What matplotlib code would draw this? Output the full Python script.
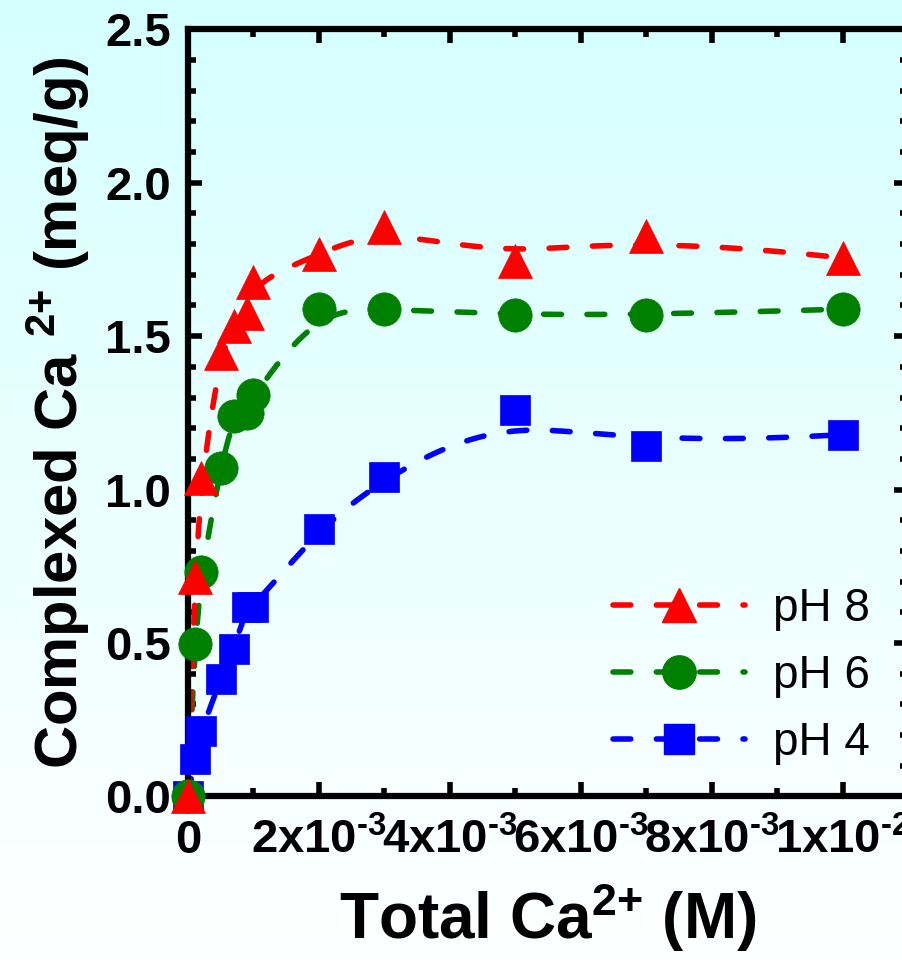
import numpy as np
import matplotlib
matplotlib.use("Agg")
import matplotlib.pyplot as plt
import matplotlib.ticker as mticker
from matplotlib.lines import Line2D

plt.rcParams["font.family"] = ["Liberation Sans", "DejaVu Sans"]
plt.rcParams["mathtext.fontset"] = "custom"
plt.rcParams["mathtext.rm"] = "Liberation Sans:bold"
plt.rcParams["mathtext.it"] = "Liberation Sans:bold"
plt.rcParams["mathtext.bf"] = "Liberation Sans:bold"
plt.rcParams["mathtext.default"] = "regular"

# data (total Ca2+ in M, complexed Ca2+ in meq/g)
x_ph8 = [0, 1e-4, 2e-4, 5e-4, 7e-4, 9e-4, 1e-3, 2e-3, 3e-3, 5e-3, 7e-3, 1e-2]
y_ph8 = [0.0, 0.716, 1.038, 1.445, 1.532, 1.577, 1.677, 1.767, 1.856, 1.746, 1.826, 1.755]

x_ph6 = [0, 1e-4, 2e-4, 5e-4, 7e-4, 9e-4, 1e-3, 2e-3, 3e-3, 5e-3, 7e-3, 1e-2]
y_ph6 = [0.0, 0.496, 0.732, 1.071, 1.241, 1.249, 1.309, 1.589, 1.589, 1.569, 1.569, 1.588]

x_ph4 = [0, 1e-4, 2e-4, 5e-4, 7e-4, 9e-4, 1e-3, 2e-3, 3e-3, 5e-3, 7e-3, 1e-2]
y_ph4 = [0.0, 0.122, 0.212, 0.382, 0.481, 0.617, 0.617, 0.871, 1.041, 1.259, 1.141, 1.179]

x_ticks = [0, 2e-3, 4e-3, 6e-3, 8e-3, 1e-2]
x_ticklabels = ["0", r"2x10$^{\text{-3}}$", r"4x10$^{\text{-3}}$", r"6x10$^{\text{-3}}$",
                r"8x10$^{\text{-3}}$", r"1x10$^{\text{-2}}$"]
y_ticks = [0.0, 0.5, 1.0, 1.5, 2.0, 2.5]

TOP_BG = np.array([0.835, 1.0, 1.0])
BOT_BG = np.array([1.0, 1.0, 1.0])


def bspline(x, y, num=400, k=3):
    """Clamped cubic B-spline using the data points as control points
    (how Origin draws its 'B-Spline' connecting lines)."""
    P = np.column_stack([x, y])
    n = len(P)
    knots = np.concatenate([np.zeros(k), np.arange(n - k + 1), np.full(k, n - k)])
    t = np.linspace(0, n - k, num)
    t[-1] -= 1e-9
    B = np.zeros((num, len(knots) - 1))
    for i in range(len(knots) - 1):
        B[:, i] = (knots[i] <= t) & (t < knots[i + 1])
    for d in range(1, k + 1):
        Bn = np.zeros((num, len(knots) - 1 - d))
        for i in range(len(knots) - 1 - d):
            a = knots[i + d] - knots[i]
            b = knots[i + d + 1] - knots[i + 1]
            term = np.zeros(num)
            if a > 0:
                term += (t - knots[i]) / a * B[:, i]
            if b > 0:
                term += (knots[i + d + 1] - t) / b * B[:, i + 1]
            Bn[:, i] = term
        B = Bn
    return B @ P


fig = plt.figure(figsize=(9.03, 9.61), dpi=100)

# gradient background over the whole figure
bg = fig.add_axes([0, 0, 1, 1], zorder=-10)
grad = np.linspace(0, 1, 256)[:, None]
img = TOP_BG[None, None, :] * (1 - grad[:, :, None]) + BOT_BG[None, None, :] * grad[:, :, None]
bg.imshow(img, aspect="auto", extent=[0, 1, 0, 1])
bg.axis("off")

ax = fig.add_axes([188 / 903, 0.1714, 720 / 903, 0.798])
ax.patch.set_alpha(0)

LW = 4
DASH = (3.2, 4.6)

series = [
    (x_ph4, y_ph4, "#0000FF", "s", 22, "pH 4"),
    (x_ph6, y_ph6, "#008000", "o", 24, "pH 6"),
    (x_ph8, y_ph8, "#FF0000", "^", 25, "pH 8"),
]

handles = {}
for xs, ys, col, mk, ms, lab in series:
    curve = bspline(xs, ys)
    ax.plot(curve[:, 0], curve[:, 1], color=col, lw=LW, dashes=DASH,
            dash_capstyle="round", zorder=3)
    ax.plot(xs, ys, linestyle="none", marker=mk, ms=ms, color=col,
            mec=col, mew=0.5, clip_on=False, zorder=5)
    handles[lab] = Line2D([], [], color=col, lw=LW, dashes=DASH,
                          dash_capstyle="round", marker=mk, ms=ms, mec=col)

ax.set_xlim(0, 0.011)
ax.set_ylim(0, 2.5)

ax.set_xticks(x_ticks)
ax.set_xticklabels(x_ticklabels)
ax.set_yticks(y_ticks)
ax.yaxis.set_major_formatter(mticker.FormatStrFormatter("%.1f"))
ax.xaxis.set_minor_locator(mticker.MultipleLocator(1e-3))
ax.yaxis.set_minor_locator(mticker.MultipleLocator(0.1))

ax.tick_params(which="both", direction="in", top=True, right=True, width=4,
               labelsize=34)
ax.tick_params(which="major", length=10)
ax.tick_params(which="minor", length=5.5)
ax.tick_params(axis="x", pad=16)
ax.tick_params(axis="y", pad=12)
for lbl in ax.get_xticklabels() + ax.get_yticklabels():
    lbl.set_fontweight("bold")

for sp in ax.spines.values():
    sp.set_linewidth(4.5)
    sp.set_zorder(4)

ax.set_xlabel(r"Total Ca$^{\text{2+}}$ (M)", fontsize=46, fontweight="bold")
ax.xaxis.set_label_coords(0.5, -0.11)
ax.set_ylabel(r"Complexed Ca $^{\text{2+}}$ (meq/g)", fontsize=43, fontweight="bold")
ax.yaxis.set_label_coords(-0.133, 0.5)

leg = ax.legend([handles["pH 8"], handles["pH 6"], handles["pH 4"]],
                ["pH 8", "pH 6", "pH 4"],
                loc="upper left", bbox_to_anchor=(613 / 903, 1 - 587 / 961),
                bbox_transform=fig.transFigure, frameon=False, numpoints=1,
                prop={"family": "Liberation Sans", "size": 33},
                handlelength=2.88, handletextpad=0.61, labelspacing=0.5,
                borderpad=0, borderaxespad=0)

fig.savefig("out.png", dpi=100)
